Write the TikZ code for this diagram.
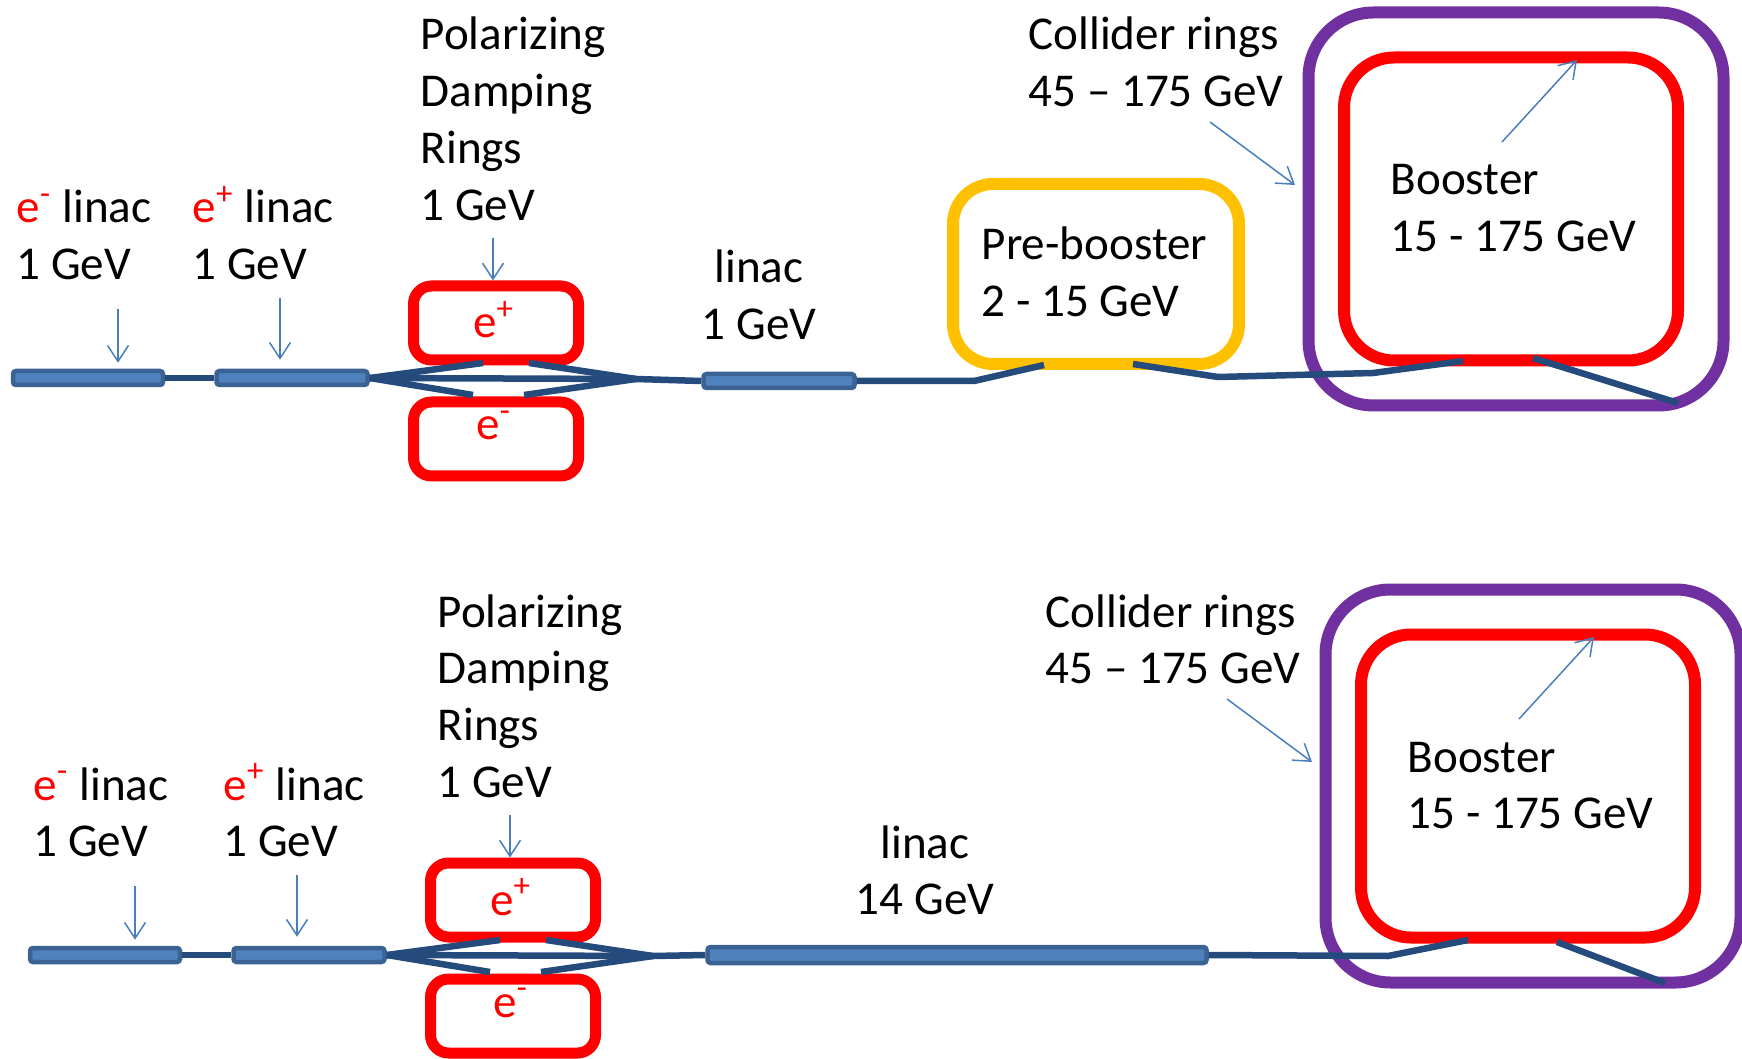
\documentclass[tikz,border=0pt]{standalone}
\usepackage{fontspec}
\setmainfont{Carlito}
\usepackage{xcolor}
\usetikzlibrary{positioning,arrows.meta}

\definecolor{linacfill}{HTML}{4F81BD}
\definecolor{linacedge}{HTML}{3A6394}
\definecolor{beamblue}{HTML}{254A7C}
\definecolor{arrowblue}{HTML}{4A7EBB}
\definecolor{ringred}{HTML}{FF0000}
\definecolor{pregold}{HTML}{FFC000}
\definecolor{colpurple}{HTML}{7030A0}

\newcommand{\eminus}{\textcolor{ringred}{e\textsuperscript{-}}}
\newcommand{\eplus}{\textcolor{ringred}{e\textsuperscript{+}}}

\begin{document}
\begin{tikzpicture}[
    x=0.1mm, y=-0.1mm,
    font=\fontsize{13.4pt}{16.2pt}\selectfont,
    txt/.style={
        inner sep=0pt,
        anchor=base west,
        text width=40mm,
        align=flush left
    },
    linac/.style={
        draw=linacedge,
        fill=linacfill,
        line width=0.45mm,
        rounded corners=0.3mm,
        inner sep=0pt,
        minimum height=1.4mm
    },
    dr/.style={
        draw=ringred,
        line width=1.1mm,
        rounded corners=1.8mm,
        minimum width=16.5mm,
        minimum height=7.4mm
    },
    bigring/.style={line width=1.2mm, inner sep=0pt},
    beam/.style={draw=beamblue, line width=0.65mm},
    pointer/.style={draw=arrowblue, line width=0.15mm,
        -{Straight Barb[length=1.6mm,width=2.1mm]}}
]

\useasboundingbox (0,0) rectangle (1742,1059);
\clip (0,0) rectangle (1742,1059);

% parts that both layouts share
\foreach \p/\dx/\dy/\ex in {t/0/0/192, b/17/577/206} {
\begin{scope}[shift={(\dx,\dy)}]
    % injector linacs
    \node[linac, minimum width=15mm] (\p-lin1) at (88,378) {};
    \node[linac, minimum width=15.1mm] (\p-lin2) at (292,378) {};
    \node[txt] (\p-emtxt) at (16,223) {\eminus{} linac\\1 GeV};
    \node[txt] (\p-eptxt) at (\ex,223) {\eplus{} linac\\1 GeV};

    % damping rings
    \node[dr] (\p-ep) at (496,323) {};
    \node[dr, below=3.1mm of \p-ep] (\p-em) {};
    \node[anchor=base, inner sep=0pt] (\p-eplbl) at (494,338) {\eplus};
    \node[anchor=base, inner sep=0pt] (\p-emlbl) at (494,440) {\eminus};
    \node[txt] (\p-drtxt) at (420,50) {Polarizing\\Damping\\Rings\\1 GeV};

    % collider and booster
    \node[bigring, draw=colpurple, rounded corners=6.5mm,
        minimum width=41.5mm, minimum height=39.3mm] (\p-col) at (1516,209) {};
    \node[bigring, draw=ringred, rounded corners=5mm,
        minimum width=33.4mm, minimum height=30.3mm] (\p-boo) at (1511,209) {};
    \node[txt] (\p-coltxt) at (1028,50) {Collider rings\\45 \textendash{} 175 GeV};
    \node[txt] (\p-bootxt) at (1390,195) {Booster\\15 - 175 GeV};

    % beam through the damping rings
    \coordinate (\p-ua) at (483,363);
    \coordinate (\p-ub) at (529,363);
    \coordinate (\p-la) at (473,395);
    \coordinate (\p-lb) at (524,395);
    \coordinate (\p-tip) at (636,379);
    \draw[beam] (\p-lin1) -- (\p-lin2);
    \draw[beam] (\p-lin2.east) -- (\p-ua) (\p-ub) -- (\p-tip);
    \draw[beam] (\p-lin2.east) -- (\p-la) (\p-lb) -- (\p-tip);
    \draw[beam] (\p-lin2.east) -- (\p-tip);

    % pointers
    \coordinate (\p-s1) at (118,309);
    \coordinate (\p-s2) at (280,298);
    \coordinate (\p-s3) at (493,238);
    \coordinate (\p-s4) at (1210,122);
    \coordinate (\p-e4) at (1295,185);
    \coordinate (\p-s5) at (1502,142);
    \coordinate (\p-e5) at (1577,60);
    \draw[pointer, shorten >=0.6mm] (\p-s1) -- (\p-s1 |- \p-lin1.north);
    \draw[pointer, shorten >=0.9mm] (\p-s2) -- (\p-s2 |- \p-lin2.north);
    \draw[pointer] (\p-s3) -- (\p-s3 |- \p-ep.north);
    \draw[pointer] (\p-s4) -- (\p-e4);
    \draw[pointer] (\p-s5) -- (\p-e5);
\end{scope}
}

% upper layout: 1 GeV linac and pre-booster
\node[linac, minimum width=15.1mm] (t-lin3) at (779,381) {};
\node[txt, anchor=base, align=flush center, text width=30mm] (t-lintxt) at (759,283) {linac\\1 GeV};
\node[bigring, draw=pregold, rounded corners=4mm,
    minimum width=28.6mm, minimum height=18mm] (t-pre) at (1096,274) {};
\node[txt] (t-pretxt) at (981,260) {Pre-booster\\2 - 15 GeV};

\coordinate (t-p1) at (974,381);
\coordinate (t-p2) at (1044,365);
\coordinate (t-p3) at (1133,364);
\coordinate (t-p4) at (1218,377);
\coordinate (t-p5) at (1373,373);
\coordinate (t-p6) at (1463,361);
\coordinate (t-p7) at (1533,358);
\coordinate (t-p8) at (1678,403);
\draw[beam] (t-tip) -- (t-lin3.west);
\draw[beam] (t-lin3.east) -- (t-p1) -- (t-p2);
\draw[beam] (t-p3) -- (t-p4) -- (t-p5) -- (t-p6);
\draw[beam] (t-p7) -- (t-p8);

% lower layout: 14 GeV linac straight into the booster
\node[linac, minimum width=49.9mm, minimum height=1.6mm] (b-lin4) at (957,955) {};
\node[txt, anchor=base, align=flush center, text width=30mm] (b-lintxt) at (925,858) {linac\\14 GeV};

\coordinate (b-p1) at (1388,956);
\coordinate (b-p2) at (1468,940);
\coordinate (b-p3) at (1557,942);
\coordinate (b-p4) at (1665,983);
\draw[beam] (b-tip) -- (b-lin4.west);
\draw[beam] (b-lin4.east) -- (b-p1) -- (b-p2);
\draw[beam] (b-p3) -- (b-p4);

\end{tikzpicture}
\end{document}
